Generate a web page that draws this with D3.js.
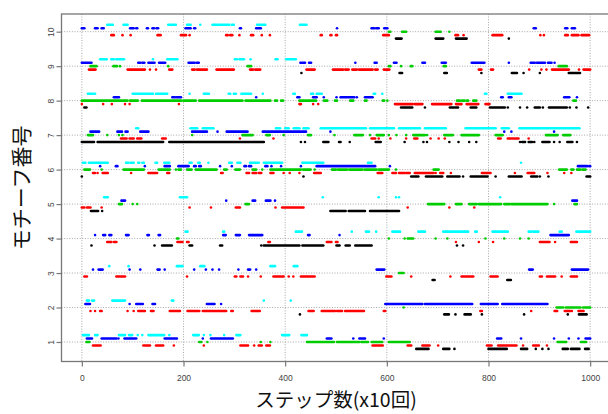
<!DOCTYPE html>
<html><head><meta charset="utf-8">
<script src="https://cdn.jsdelivr.net/npm/d3@7"></script>
<style>body{margin:0;background:#fff}svg{display:block}</style>
</head><body><svg id="c" width="608" height="414"></svg>
<script>
// ---- data ----
const xTicks = [0, 200, 400, 600, 800, 1000];
const yTicks = [1, 2, 3, 4, 5, 6, 7, 8, 9, 10];
const xTitle = "ステップ数(x10回)";
const yTitle = "モチーフ番号";
const seriesNames = ["black", "red", "green", "blue", "cyan"];
// each run: [motif, firstStep, lastStep]
const blackRuns = [
 [10,618,629],[10,696,711],[10,736,757],[10,840,840],
 [9,432,432],[9,625,630],[9,713,718],[9,786,786],[9,846,856],[9,869,869],[9,901,901],[9,958,980],
 [8,5,9],[8,628,650],[8,675,675],[8,724,740],[8,765,776],[8,803,832],[8,838,838],[8,862,862],[8,876,876],[8,891,901],[8,907,907],[8,919,954],[8,960,960],[8,973,973],[8,996,996],
 [7,0,24],[7,31,160],[7,172,358],[7,431,431],[7,439,439],[7,475,485],[7,506,509],[7,527,527],[7,578,588],[7,635,635],[7,672,672],[7,679,679],[7,723,723],[7,741,741],[7,762,762],[7,776,776],[7,862,862],[7,866,872],[7,879,886],[7,890,890],[7,906,920],[7,929,929],[7,940,940],[7,955,965],[7,974,974],
 [6,0,0],[6,436,436],[6,648,662],[6,677,709],[6,719,730],[6,733,743],[6,750,750],[6,765,798],[6,814,814],[6,840,865],[6,884,896],[6,901,901],[6,918,918],[6,993,1000],
 [5,18,32],[5,40,40],[5,489,519],[5,525,557],[5,567,624],
 [4,19,19],[4,143,143],[4,158,177],[4,212,217],[4,272,276],[4,353,353],[4,358,428],[4,434,475],[4,501,507],[4,519,527],[4,538,570],[4,738,738],[4,750,750],
 [3,690,694],[3,837,844],
 [2,429,429],[2,713,722],[2,735,735],[2,753,765],[2,787,787],[2,870,870],[2,956,956],[2,978,993],
 [1,658,682],[1,711,723],[1,733,733],[1,800,836],[1,864,876],[1,893,893],[1,906,906],[1,918,918],[1,946,956],[1,962,979],[1,990,997]
];
const redRuns = [
 [10,58,63],[10,80,80],[10,96,96],[10,149,155],[10,195,205],[10,212,212],[10,284,287],[10,292,296],[10,310,310],[10,333,337],[10,354,354],[10,370,370],[10,470,472],[10,489,491],[10,500,502],[10,593,604],[10,735,740],[10,751,751],[10,808,827],[10,902,902],[10,909,909],[10,951,956],[10,964,977],[10,983,998],
 [9,14,27],[9,90,124],[9,134,134],[9,146,146],[9,172,178],[9,217,222],[9,226,229],[9,231,246],[9,265,299],[9,331,337],[9,341,351],[9,442,458],[9,494,514],[9,518,525],[9,532,541],[9,545,572],[9,577,582],[9,594,605],[9,781,786],[9,805,809],[9,880,880],[9,904,904],[9,914,914],[9,925,958],[9,978,978],[9,987,1000],
 [8,0,0],[8,42,42],[8,59,59],[8,85,85],[8,94,94],[8,191,191],[8,428,431],[8,455,455],[8,465,465],[8,616,651],[8,655,670],[8,689,727],[8,736,747],[8,757,780],[8,794,802],
 [7,77,88],[7,94,102],[7,109,117],[7,158,165],[7,311,311],[7,377,377],[7,570,577],[7,584,584],[7,607,607],[7,638,638],[7,654,660],[7,686,686],[7,702,702],[7,714,714],[7,819,824],[7,838,859],[7,879,879],
 [6,22,26],[6,31,31],[6,41,51],[6,97,97],[6,131,148],[6,168,172],[6,274,277],[6,324,329],[6,336,343],[6,348,353],[6,371,377],[6,397,397],[6,409,409],[6,428,428],[6,457,470],[6,582,591],[6,611,618],[6,624,635],[6,638,645],[6,655,692],[6,696,696],[6,705,711],[6,726,726],[6,787,804],[6,852,852],[6,877,890],[6,916,916],[6,949,949],[6,963,963],
 [5,0,5],[5,10,17],[5,39,39],[5,212,212],[5,254,254],[5,303,311],[5,381,381],[5,394,436],[5,641,641],[5,723,723],[5,772,772],
 [4,50,58],[4,63,68],[4,188,198],[4,207,210],[4,367,370],[4,482,491],[4,500,503],[4,736,736],[4,781,781],[4,809,809],[4,901,920],[4,931,931],[4,962,974],
 [3,5,10],[3,68,85],[3,207,207],[3,301,304],[3,312,317],[3,327,327],[3,352,352],[3,377,397],[3,407,407],[3,416,416],[3,431,458],[3,599,609],[3,648,648],[3,725,725],[3,747,770],[3,804,818],[3,901,905],[3,915,931],[3,944,944],[3,962,974],
 [2,17,17],[2,26,26],[2,36,39],[2,90,90],[2,102,102],[2,111,124],[2,136,141],[2,173,193],[2,208,231],[2,238,284],[2,294,297],[2,334,350],[2,446,456],[2,472,498],[2,502,512],[2,518,555],[2,594,597],[2,784,787],[2,884,884],[2,930,935],[2,950,961],[2,964,964],[2,977,987],
 [1,22,37],[1,121,134],[1,146,160],[1,181,181],[1,240,240],[1,312,327],[1,339,339],[1,348,354],[1,363,370],[1,572,592],[1,641,648],[1,670,684],[1,701,701],[1,797,806],[1,819,855],[1,868,868],[1,888,899],[1,915,915]
];
const greenRuns = [
 [10,604,607],[10,630,638],[10,696,706],[10,723,723],
 [9,17,29],[9,62,69],[9,75,75],[9,170,170],[9,326,333],[9,604,607],[9,628,628],[9,647,650],[9,712,716],[9,938,954],
 [8,0,90],[8,95,110],[8,118,196],[8,200,224],[8,231,316],[8,322,371],[8,380,384],[8,392,396],[8,428,461],[8,476,483],[8,498,502],[8,528,534],[8,557,560],[8,592,595],[8,601,601],[8,738,744],[8,748,753],[8,757,760],[8,770,776],[8,967,972],
 [7,12,22],[7,50,50],[7,73,73],[7,80,80],[7,217,217],[7,316,336],[7,363,370],[7,397,397],[7,445,451],[7,497,497],[7,536,553],[7,567,567],[7,580,594],[7,604,604],[7,619,619],[7,638,638],[7,652,675],[7,679,679],[7,713,730],[7,747,781],[7,814,828],[7,913,936],[7,947,961],
 [6,5,16],[6,39,39],[6,82,122],[6,151,173],[6,185,185],[6,190,195],[6,207,216],[6,224,265],[6,280,285],[6,302,311],[6,336,343],[6,355,355],[6,371,431],[6,435,450],[6,458,458],[6,492,500],[6,504,522],[6,526,552],[6,556,580],[6,584,604],[6,618,618],[6,692,702],[6,939,954],[6,963,967],[6,974,981],[6,985,991],
 [5,73,79],[5,100,100],[5,109,109],[5,322,329],[5,681,700],[5,702,713],[5,736,747],[5,762,777],[5,781,825],[5,831,842],[5,845,916],[5,929,929],[5,969,974],
 [4,187,190],[4,604,604],[4,635,635],[4,641,652],[4,696,696],[4,719,719],[4,794,794],[4,831,831],[4,862,862],[4,879,879],
 [3,624,633],
 [2,633,633],[2,934,947],[2,952,981],[2,986,1000],
 [1,9,15],[1,231,235],[1,247,247],[1,352,352],[1,371,371],[1,443,496],[1,502,546],[1,550,563],[1,570,591],[1,604,645],[1,936,953],[1,982,992]
];
const blueRuns = [
 [10,0,5],[10,26,31],[10,39,43],[10,95,102],[10,107,109],[10,128,130],[10,139,142],[10,147,150],[10,204,214],[10,221,223],[10,311,313],[10,343,352],[10,502,502],[10,570,575],[10,579,584],[10,595,601],[10,889,893],[10,951,955],[10,964,970],
 [9,0,19],[9,111,115],[9,119,123],[9,131,143],[9,152,164],[9,210,222],[9,226,230],[9,430,439],[9,447,451],[9,538,538],[9,576,580],[9,614,619],[9,670,675],[9,708,716],[9,767,792],[9,840,840],[9,883,891],[9,895,911],[9,917,924],[9,930,930],
 [8,63,73],[8,178,183],[8,186,195],[8,343,343],[8,424,428],[8,455,462],[8,476,476],[8,501,501],[8,509,536],[8,541,541],[8,557,572],[8,825,828],[8,840,845],[8,949,959],[8,974,974],
 [7,17,34],[7,70,79],[7,86,90],[7,115,131],[7,217,246],[7,267,267],[7,285,326],[7,356,441],[7,489,489],[7,831,831],[7,845,845],[7,929,929],
 [6,36,36],[6,67,70],[6,124,124],[6,163,173],[6,190,210],[6,221,224],[6,231,234],[6,272,272],[6,295,295],[6,320,323],[6,329,333],[6,361,365],[6,373,373],[6,392,392],[6,431,431],[6,462,577],[6,606,606],[6,976,994],[6,998,1000],
 [5,78,85],[5,284,284],[5,336,341],[5,362,371],[5,380,380],[5,965,974],
 [4,26,26],[4,42,46],[4,54,58],[4,87,92],[4,129,132],[4,151,154],[4,278,283],[4,303,311],[4,329,355],[4,445,448],[4,507,507],[4,922,958],
 [3,22,22],[3,33,41],[3,94,94],[3,115,115],[3,149,153],[3,163,163],[3,221,221],[3,244,244],[3,257,257],[3,270,270],[3,308,308],[3,327,331],[3,343,343],[3,580,595],[3,880,887],[3,964,996],
 [2,7,16],[2,94,94],[2,107,120],[2,139,144],[2,246,261],[2,274,274],[2,597,670],[2,675,768],[2,785,818],[2,827,916],
 [1,10,20],[1,39,68],[1,72,72],[1,84,107],[1,163,187],[1,238,238],[1,254,297],[1,482,491],[1,534,534],[1,546,557],[1,594,594],[1,817,825],[1,864,864],[1,929,929],[1,958,958],[1,977,977],[1,991,1000]
];
const cyanRuns = [
 [10,50,61],[10,82,90],[10,170,185],[10,207,214],[10,233,233],[10,257,290],[10,295,299],[10,345,361],[10,429,442],
 [9,36,43],[9,45,49],[9,58,63],[9,68,77],[9,80,83],[9,140,140],[9,168,188],[9,301,305],[9,310,319],[9,332,332],[9,381,385],[9,402,421],
 [8,12,16],[8,19,22],[8,26,26],[8,100,140],[8,146,168],[8,212,212],[8,240,250],[8,289,292],[8,299,303],[8,314,333],[8,356,356],[8,416,419],[8,451,455],[8,462,472],[8,574,577],[8,591,591],[8,793,796],[8,838,865],
 [7,107,111],[7,214,227],[7,238,259],[7,382,390],[7,400,407],[7,417,428],[7,436,446],[7,470,559],[7,567,614],[7,624,665],[7,675,716],[7,755,814],[7,826,840],[7,861,979],
 [6,2,7],[6,14,51],[6,87,92],[6,96,102],[6,111,113],[6,119,122],[6,145,148],[6,162,172],[6,212,216],[6,229,232],[6,249,249],[6,290,295],[6,306,312],[6,331,348],[6,358,394],[6,434,475],[6,563,570],[6,864,864],
 [5,44,51],[5,193,207],[5,474,474],[5,584,584],[5,618,618],[5,624,624],[5,823,823],
 [4,204,208],[4,278,280],[4,421,433],[4,531,531],[4,559,565],[4,579,579],[4,611,626],[4,662,675],[4,711,760],[4,774,777],[4,808,838],[4,879,884],[4,888,898],[4,940,944],[4,973,1000],
 [3,54,54],[3,92,92],[3,187,198],[3,233,241],[3,371,380],[3,417,424],
 [2,10,14],[2,20,24],[2,60,85],[2,177,180],[2,358,358],[2,411,411],
 [1,2,14],[1,26,31],[1,73,85],[1,93,99],[1,110,110],[1,119,119],[1,131,162],[1,172,172],[1,219,230],[1,240,240],[1,253,253],[1,280,280],[1,304,312],[1,394,408],[1,432,443]
];

// ---- styles ----
const runsBySeries = {black: blackRuns, red: redRuns, green: greenRuns, blue: blueRuns, cyan: cyanRuns};
const colorOf = {black: "#000000", red: "#ff0000", green: "#00cd00", blue: "#0000ff", cyan: "#00ffff"};
const offsetOf = {black: -0.2, red: -0.1, green: 0, blue: 0.1, cyan: 0.2};

const svg = d3.select("#c");
svg.append("rect").attr("width", 608).attr("height", 414).attr("fill", "#fff");

const x = d3.scaleLinear().domain([-40, 1040]).range([61.5, 610.5]);
const y = d3.scaleLinear().domain([0.434, 10.513]).range([361.5, 14]);
const [x0, x1] = x.range();
const [yb, yt] = y.range();

// grid
const grid = svg.append("g").attr("stroke", "#a8a8a8").attr("stroke-width", 1).attr("stroke-dasharray", "1,1.6");
grid.selectAll("line.v").data(xTicks).join("line")
  .attr("x1", d => x(d)).attr("x2", d => x(d)).attr("y1", yt).attr("y2", yb);
grid.selectAll("line.h").data(yTicks).join("line")
  .attr("y1", d => y(d)).attr("y2", d => y(d)).attr("x1", x0).attr("x2", x1);

// points
const plot = svg.append("g");
seriesNames.forEach(name => {
  plot.append("g")
    .attr("stroke", colorOf[name]).attr("stroke-width", 2.6).attr("stroke-linecap", "round")
    .selectAll("line").data(runsBySeries[name]).join("line")
    .attr("x1", d => x(d[1])).attr("x2", d => x(d[2]))
    .attr("y1", d => y(d[0] + offsetOf[name])).attr("y2", d => y(d[0] + offsetOf[name]));
});

// box
svg.append("rect").attr("x", x0).attr("y", yt).attr("width", x1 - x0).attr("height", yb - yt)
  .attr("fill", "none").attr("stroke", "#777").attr("stroke-width", 1.3);

// axes
const xAxis = svg.append("g").attr("transform", `translate(0,${yb})`)
  .call(d3.axisBottom(x).tickValues(xTicks).tickSize(5).tickPadding(8).tickFormat(d3.format("d")));
const yAxis = svg.append("g").attr("transform", `translate(${x0},0)`)
  .call(d3.axisLeft(y).tickValues(yTicks).tickSize(5).tickPadding(3).tickFormat(d3.format("d")));
[xAxis, yAxis].forEach(a => {
  a.select(".domain").remove();
  a.selectAll(".tick line").attr("stroke", "#777").attr("stroke-width", 1.2);
  a.selectAll(".tick text").attr("fill", "#444").attr("font-family", "'Liberation Sans', Arial, sans-serif").attr("font-size", 8.5);
});
yAxis.selectAll(".tick text")
  .attr("text-anchor", "middle").attr("dy", null).attr("x", null)
  .attr("transform", "translate(-10,0) rotate(-90)")
  .attr("dy", "0.35em");

// titles
svg.append("text").attr("x", (x0 + x1) / 2).attr("y", 407)
  .attr("text-anchor", "middle").attr("font-family", "'Noto Sans CJK JP', sans-serif")
  .attr("font-size", 19.5).attr("fill", "#111").text(xTitle);
svg.append("text").attr("transform", `translate(29,${(yt + yb) / 2}) rotate(-90)`)
  .attr("text-anchor", "middle").attr("font-family", "'Noto Sans CJK JP', sans-serif")
  .attr("font-size", 21).attr("fill", "#111").text(yTitle);
</script></body></html>
